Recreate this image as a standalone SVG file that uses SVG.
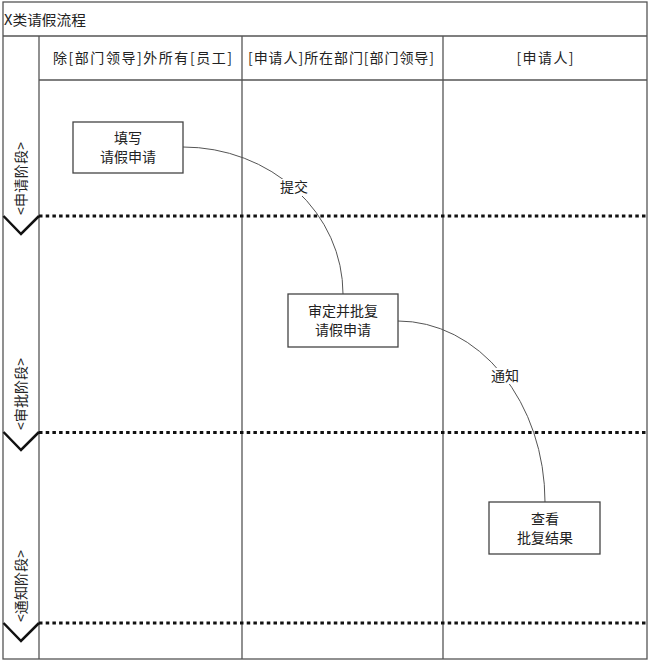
<svg xmlns="http://www.w3.org/2000/svg" width="650" height="662" viewBox="0 0 650 662">
<style>
text{font-family:"Noto Sans CJK SC","Liberation Sans",sans-serif;font-size:14px;fill:#222}
.c{text-anchor:middle}
.frame{fill:none;stroke:#555;stroke-width:1.3}
.div{stroke:#111;stroke-width:3;stroke-dasharray:3.5 3.2;fill:none}
.chev{fill:none;stroke:#111;stroke-width:2.5}
.node rect{fill:#fff;stroke:#444;stroke-width:1.3}
.conn{fill:none;stroke:#555;stroke-width:1}
.lbl{fill:#fff;stroke:none}
</style>
<rect width="650" height="662" fill="#fff"/>
<g id="pool">
<rect class="frame" x="3" y="2" width="644" height="657"/>
<line class="frame" x1="3" y1="36" x2="647" y2="36"/>
<line class="frame" x1="39" y1="36" x2="39" y2="659"/>
<line class="frame" x1="242" y1="36" x2="242" y2="659"/>
<line class="frame" x1="443" y1="36" x2="443" y2="659"/>
<line class="frame" x1="39" y1="80" x2="647" y2="80"/>
<text x="4" y="25" textLength="82" lengthAdjust="spacingAndGlyphs">X类请假流程</text>
</g>
<g id="lane-headers">
<text class="c" x="142.5" y="62.5" textLength="179" lengthAdjust="spacing">除[部门领导]外所有[员工]</text>
<text class="c" x="341" y="62.5" textLength="186" lengthAdjust="spacing">[申请人]所在部门[部门领导]</text>
<text class="c" x="545" y="62.5" textLength="57" lengthAdjust="spacing">[申请人]</text>
</g>
<g id="phases">
<line class="div" x1="39" y1="216" x2="647" y2="216"/>
<line class="div" x1="39" y1="432.5" x2="647" y2="432.5"/>
<line class="div" x1="39" y1="623" x2="647" y2="623"/>
<polyline class="chev" points="3.5,216 21,234 39,216"/>
<polyline class="chev" points="3.5,432 21,450 39,432"/>
<polyline class="chev" points="3.5,623 21,641 39,623"/>
<text transform="translate(25.5,215) rotate(-90)" textLength="73" lengthAdjust="spacing">&lt;申请阶段&gt;</text>
<text transform="translate(25.5,430) rotate(-90)" textLength="72" lengthAdjust="spacing">&lt;审批阶段&gt;</text>
<text transform="translate(25.5,622) rotate(-90)" textLength="72" lengthAdjust="spacing">&lt;通知阶段&gt;</text>
</g>
<g id="connectors">
<path class="conn" d="M183,147 A160,147 0 0 1 343,294"/>
<path class="conn" d="M398,321 A147,181 0 0 1 545,502"/>
<rect class="lbl" x="280" y="179" width="29" height="17"/>
<text class="c" x="294" y="192">提交</text>
<rect class="lbl" x="490" y="368" width="30" height="16"/>
<text class="c" x="505" y="381">通知</text>
</g>
<g id="node-fill" class="node">
<rect x="73" y="122" width="110" height="51"/>
<text class="c" x="128" y="143">填写</text>
<text class="c" x="128" y="162">请假申请</text>
</g>
<g id="node-approve" class="node">
<rect x="288" y="294" width="110" height="53"/>
<text class="c" x="343" y="316">审定并批复</text>
<text class="c" x="343" y="335">请假申请</text>
</g>
<g id="node-view" class="node">
<rect x="489" y="502" width="111" height="52"/>
<text class="c" x="545" y="524">查看</text>
<text class="c" x="545" y="543">批复结果</text>
</g>
</svg>
